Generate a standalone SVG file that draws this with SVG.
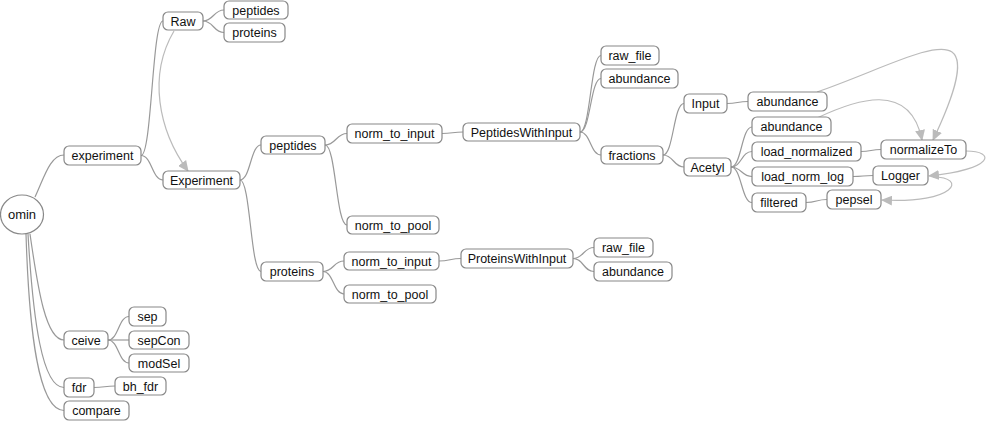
<svg xmlns="http://www.w3.org/2000/svg" width="986" height="421" viewBox="0 0 986 421">
<style>
.n rect, .n ellipse{fill:#fff;stroke:#888;stroke-width:1.2}
.n text{font-family:"Liberation Sans",Arial,sans-serif;font-size:12.5px;fill:#111;text-anchor:middle}
.e path{fill:none;stroke:#999;stroke-width:1.2}
.d path{fill:none;stroke:#bbb;stroke-width:1.2}
</style>
<defs>
<marker id="ah" markerUnits="userSpaceOnUse" markerWidth="11" markerHeight="10" refX="10" refY="5" orient="auto">
<path d="M0,0 L11,5 L0,10 z" fill="#bbb"/>
</marker>
</defs>
<g id="connectors">
<g class="e">
<path d="M35 197 C44 178 50 155 64 155"/>
<path d="M30 234 C38 290 46 340 64 340"/>
<path d="M28 234 C33 320 42 387.5 64 387.5"/>
<path d="M26 234 C29 330 38 410.5 64 410.5"/>
<path d="M141 155.5 C152 155.5 152 21 163 21"/>
<path d="M141 155.5 C152 155.5 152 180 163 180"/>
<path d="M203 21 C213.5 21 213.5 10 224 10"/>
<path d="M203 21 C213.5 21 213.5 32.5 224 32.5"/>
<path d="M240 180 C250.5 180 250.5 145 261 145"/>
<path d="M240 180 C250.5 180 250.5 271.5 261 271.5"/>
<path d="M325 145 C336 145 336 133.5 347 133.5"/>
<path d="M325 145 C336 145 336 225 347 225"/>
<path d="M442 133.5 C452.5 133.5 452.5 132 463 132"/>
<path d="M580 132 C590.5 132 590.5 55.5 601 55.5"/>
<path d="M580 132 C590.5 132 590.5 78.5 601 78.5"/>
<path d="M580 132 C590.5 132 590.5 155 601 155"/>
<path d="M663 155 C673.5 155 673.5 103.5 684 103.5"/>
<path d="M663 155 C673.5 155 673.5 167 684 167"/>
<path d="M727 103.5 C737.5 103.5 737.5 101.5 748 101.5"/>
<path d="M731 167 C741.5 167 741.5 127 752 127"/>
<path d="M731 167 C741.5 167 741.5 151.5 752 151.5"/>
<path d="M731 167 C741.5 167 741.5 176.5 752 176.5"/>
<path d="M731 167 C741.5 167 741.5 202.5 752 202.5"/>
<path d="M861 151.5 C871 151.5 871 149.5 881 149.5"/>
<path d="M853 176.5 C863 176.5 863 175.5 873 175.5"/>
<path d="M806 202.5 C816.5 202.5 816.5 199.5 827 199.5"/>
<path d="M323 271.5 C333.5 271.5 333.5 261 344 261"/>
<path d="M323 271.5 C333.5 271.5 333.5 294 344 294"/>
<path d="M439 261 C450 261 450 258.5 461 258.5"/>
<path d="M573 258.5 C583.5 258.5 583.5 247.5 594 247.5"/>
<path d="M573 258.5 C583.5 258.5 583.5 271.5 594 271.5"/>
<path d="M108 340 C118.5 340 118.5 316.5 129 316.5"/>
<path d="M108 340 C118.5 340 118.5 340 129 340"/>
<path d="M108 340 C118.5 340 118.5 363 129 363"/>
<path d="M94 387.5 C104.5 387.5 104.5 386 115 386"/>
</g>
<g class="d">
<path d="M174 31 C148 75 158 130 188 171" marker-end="url(#ah)"/>
<path d="M817 92 C880 70 935 40 952 52 C966 62 952 100 933 140" marker-end="url(#ah)"/>
<path d="M817 118 C855 100 910 80 922 140" marker-end="url(#ah)"/>
<path d="M966 151 C996 151 995 169 929 176" marker-end="url(#ah)"/>
<path d="M933 177 C968 177 956 204 882 200" marker-end="url(#ah)"/>
</g>
</g>
<g id="omin" class="n"><ellipse cx="22" cy="214.5" rx="21.5" ry="19.5"/><text x="22" y="219" style="font-size:13px">omin</text></g>
<g id="experiment" class="n"><rect x="64" y="146" width="77" height="19" rx="5"/><text x="102.5" y="160">experiment</text></g>
<g id="raw" class="n"><rect x="163" y="12" width="40" height="18" rx="5"/><text x="183" y="25.5">Raw</text></g>
<g id="raw-peptides" class="n"><rect x="224" y="1" width="64" height="18" rx="5"/><text x="256" y="14.5">peptides</text></g>
<g id="raw-proteins" class="n"><rect x="224" y="23" width="61" height="19" rx="5"/><text x="254.5" y="37">proteins</text></g>
<g id="Experiment" class="n"><rect x="163" y="171" width="77" height="18" rx="5"/><text x="201.5" y="184.5">Experiment</text></g>
<g id="exp-peptides" class="n"><rect x="261" y="136" width="64" height="18" rx="5"/><text x="293" y="149.5">peptides</text></g>
<g id="exp-proteins" class="n"><rect x="261" y="262" width="62" height="19" rx="5"/><text x="292" y="276">proteins</text></g>
<g id="pep-norm_to_input" class="n"><rect x="347" y="124" width="95" height="19" rx="5"/><text x="394.5" y="138">norm_to_input</text></g>
<g id="pep-norm_to_pool" class="n"><rect x="347" y="216" width="92" height="18" rx="5"/><text x="393" y="229.5">norm_to_pool</text></g>
<g id="PeptidesWithInput" class="n"><rect x="463" y="123" width="117" height="18" rx="5"/><text x="521.5" y="136.5">PeptidesWithInput</text></g>
<g id="pwi-raw_file" class="n"><rect x="601" y="46" width="58" height="19" rx="5"/><text x="630" y="60">raw_file</text></g>
<g id="pwi-abundance" class="n"><rect x="601" y="69" width="77" height="19" rx="5"/><text x="639.5" y="83">abundance</text></g>
<g id="fractions" class="n"><rect x="601" y="146" width="62" height="18" rx="5"/><text x="632" y="159.5">fractions</text></g>
<g id="input" class="n"><rect x="684" y="94" width="43" height="19" rx="5"/><text x="705.5" y="108">Input</text></g>
<g id="acetyl" class="n"><rect x="684" y="158" width="47" height="18" rx="5"/><text x="707.5" y="171.5">Acetyl</text></g>
<g id="input-abundance" class="n"><rect x="748" y="92" width="79" height="19" rx="5"/><text x="787.5" y="106">abundance</text></g>
<g id="acetyl-abundance" class="n"><rect x="752" y="117" width="79" height="19" rx="5"/><text x="791.5" y="131">abundance</text></g>
<g id="load_normalized" class="n"><rect x="752" y="142" width="109" height="19" rx="5"/><text x="806.5" y="156">load_normalized</text></g>
<g id="load_norm_log" class="n"><rect x="752" y="167" width="101" height="19" rx="5"/><text x="802.5" y="181">load_norm_log</text></g>
<g id="filtered" class="n"><rect x="752" y="193" width="54" height="19" rx="5"/><text x="779" y="207">filtered</text></g>
<g id="normalizeTo" class="n"><rect x="881" y="140" width="85" height="19" rx="5"/><text x="923.5" y="154">normalizeTo</text></g>
<g id="logger" class="n"><rect x="873" y="166" width="55" height="19" rx="5"/><text x="900.5" y="180">Logger</text></g>
<g id="pepsel" class="n"><rect x="827" y="190" width="54" height="19" rx="5"/><text x="854" y="204">pepsel</text></g>
<g id="prot-norm_to_input" class="n"><rect x="344" y="252" width="95" height="18" rx="5"/><text x="391.5" y="265.5">norm_to_input</text></g>
<g id="prot-norm_to_pool" class="n"><rect x="344" y="285" width="92" height="18" rx="5"/><text x="390" y="298.5">norm_to_pool</text></g>
<g id="ProteinsWithInput" class="n"><rect x="461" y="249" width="112" height="19" rx="5"/><text x="517" y="263">ProteinsWithInput</text></g>
<g id="prwi-raw_file" class="n"><rect x="594" y="238" width="59" height="19" rx="5"/><text x="623.5" y="252">raw_file</text></g>
<g id="prwi-abundance" class="n"><rect x="594" y="262" width="78" height="19" rx="5"/><text x="633" y="276">abundance</text></g>
<g id="ceive" class="n"><rect x="64" y="331" width="44" height="18" rx="5"/><text x="86" y="344.5">ceive</text></g>
<g id="sep" class="n"><rect x="129" y="307" width="37" height="19" rx="5"/><text x="147.5" y="321">sep</text></g>
<g id="sepCon" class="n"><rect x="129" y="331" width="60" height="18" rx="5"/><text x="159" y="344.5">sepCon</text></g>
<g id="modSel" class="n"><rect x="129" y="354" width="60" height="18" rx="5"/><text x="159" y="367.5">modSel</text></g>
<g id="fdr" class="n"><rect x="64" y="378" width="30" height="19" rx="5"/><text x="79" y="392">fdr</text></g>
<g id="bh_fdr" class="n"><rect x="115" y="377" width="51" height="18" rx="5"/><text x="140.5" y="390.5">bh_fdr</text></g>
<g id="compare" class="n"><rect x="64" y="401" width="65" height="19" rx="5"/><text x="96.5" y="415">compare</text></g>
</svg>
